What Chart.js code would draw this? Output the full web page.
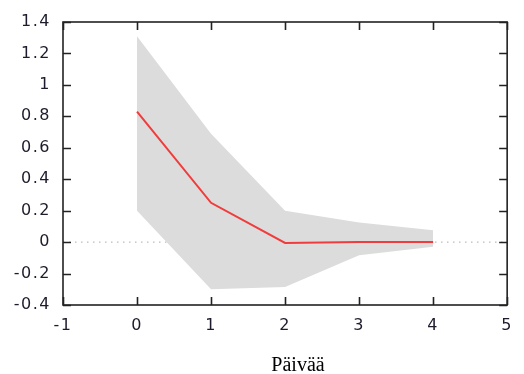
<!DOCTYPE html>
<html>
<head>
<meta charset="utf-8">
<script src="https://cdn.jsdelivr.net/npm/chart.js@4.4.0/dist/chart.umd.min.js"></script>
<style>
  html, body { margin: 0; padding: 0; background: #fff; }
  #wrap { width: 524px; height: 374px; position: relative; }
</style>
</head>
<body>
<div id="wrap"><canvas id="chart"></canvas></div>
<script>
// 데이터
const days = [0, 1, 2, 3, 4];
const response = [0.83, 0.25, -0.005, 0.0, 0.0];
const upperBand = [1.31, 0.69, 0.20, 0.125, 0.076];
const lowerBand = [0.20, -0.30, -0.285, -0.083, -0.03];
const zeroLineX = [-1, 5];
const xTicks = [-1, 0, 1, 2, 3, 4, 5];
const yTicks = [-0.4, -0.2, 0, 0.2, 0.4, 0.6, 0.8, 1, 1.2, 1.4];
const xLabel = 'Päivää';

const toPoints = (xs, ys) => xs.map((x, i) => ({ x: x, y: ys[i] }));

// 틱 라벨 글자 간격 (캔버스 크기 바뀌면 초기화되므로 매번 설정)
const spacingPlugin = {
  id: 'spacing',
  beforeLayout(chart) { chart.ctx.letterSpacing = '1.5px'; },
  beforeDraw(chart) { chart.ctx.letterSpacing = '1.5px'; }
};

// 테두리 + 안쪽 눈금, x축 제목
const framePlugin = {
  id: 'frame',
  afterDatasetsDraw(chart) {
    const { ctx, chartArea: a, scales } = chart;
    ctx.save();
    ctx.strokeStyle = '#222';
    ctx.lineWidth = 1.6;
    ctx.strokeRect(a.left, a.top, a.right - a.left, a.bottom - a.top);
    const len = 8;
    ctx.beginPath();
    xTicks.forEach(v => {
      const px = Math.round(scales.x.getPixelForValue(v)) + 0.5;
      ctx.moveTo(px, a.bottom); ctx.lineTo(px, a.bottom - len);
      ctx.moveTo(px, a.top); ctx.lineTo(px, a.top + len);
    });
    yTicks.forEach(v => {
      const py = Math.round(scales.y.getPixelForValue(v)) + 0.5;
      ctx.moveTo(a.left, py); ctx.lineTo(a.left + len, py);
      ctx.moveTo(a.right, py); ctx.lineTo(a.right - len, py);
    });
    ctx.stroke();
    ctx.restore();
  },
  afterDraw(chart) {
    const ctx = chart.ctx;
    ctx.save();
    ctx.letterSpacing = '0px';
    ctx.font = '20px "Liberation Serif", serif';
    ctx.fillStyle = '#000';
    ctx.textAlign = 'center';
    ctx.textBaseline = 'alphabetic';
    ctx.fillText(xLabel, 298, 371);
    ctx.restore();
  }
};

const ctx = document.getElementById('chart').getContext('2d');
new Chart(ctx, {
  type: 'line',
  data: {
    datasets: [
      {
        label: 'response',
        data: toPoints(days, response),
        borderColor: '#f03c3c',
        borderWidth: 2,
        pointRadius: 0,
        tension: 0,
        fill: false
      },
      {
        label: 'upper',
        data: toPoints(days, upperBand),
        borderWidth: 0,
        borderColor: 'rgba(0,0,0,0)',
        backgroundColor: '#dcdcdc',
        pointRadius: 0,
        fill: '+1'
      },
      {
        label: 'lower',
        data: toPoints(days, lowerBand),
        borderWidth: 0,
        borderColor: 'rgba(0,0,0,0)',
        pointRadius: 0,
        fill: false
      },
      {
        label: 'zero',
        data: toPoints(zeroLineX, [0, 0]),
        borderColor: '#aaaaaa',
        borderWidth: 1,
        borderDash: [1.5, 4.5],
        pointRadius: 0,
        fill: false
      }
    ]
  },
  options: {
    responsive: true,
    maintainAspectRatio: false,
    animation: false,
    layout: { padding: { top: 22, right: 14, left: 0, bottom: 0 } },
    plugins: {
      legend: { display: false },
      tooltip: { enabled: false }
    },
    scales: {
      x: {
        type: 'linear',
        min: -1,
        max: 5,
        afterFit(scale) { scale.height = 69; },
        afterBuildTicks(scale) { scale.ticks = xTicks.map(v => ({ value: v })); },
        grid: { display: false, drawTicks: false },
        border: { display: false },
        ticks: {
          padding: 11,
          color: '#1c1c2c',
          font: { family: '"DejaVu Sans", Verdana, sans-serif', size: 16 },
          maxRotation: 0,
          autoSkip: false
        }
      },
      y: {
        min: -0.4,
        max: 1.4,
        afterFit(scale) { scale.width = 63; },
        afterBuildTicks(scale) { scale.ticks = yTicks.map(v => ({ value: v })); },
        grid: { display: false, drawTicks: false },
        border: { display: false },
        ticks: {
          padding: 12,
          color: '#1c1c2c',
          font: { family: '"DejaVu Sans", Verdana, sans-serif', size: 16 },
          autoSkip: false,
          callback: v => String(Math.round(v * 10) / 10)
        }
      }
    }
  },
  plugins: [spacingPlugin, framePlugin]
});
</script>
</body>
</html>
